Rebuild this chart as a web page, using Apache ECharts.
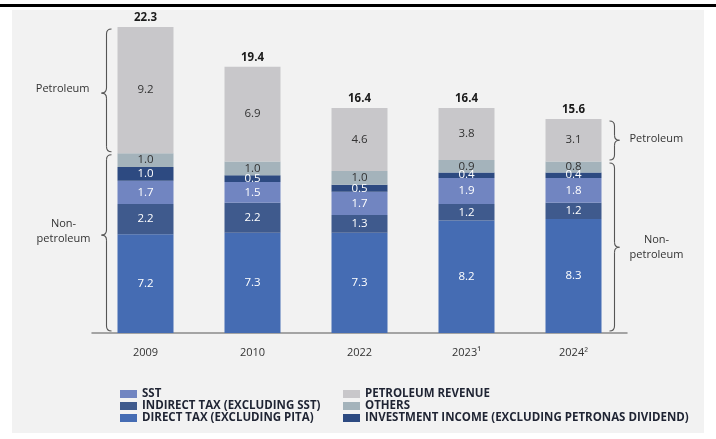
<!DOCTYPE html>
<html>
<head>
<meta charset="utf-8">
<script src="https://cdn.jsdelivr.net/npm/echarts@6/dist/echarts.min.js"></script>
<style>
  html, body { margin: 0; padding: 0; background: #ffffff; }
  #chart { width: 716px; height: 439px; }
</style>
</head>
<body>
<div id="chart"></div>
<script>
// Federal government revenue composition, by year
const years = ['2009', '2010', '2022', '2023¹', '2024²'];

const directTax     = [7.2, 7.3, 7.3, 8.2, 8.3];   // DIRECT TAX (EXCLUDING PITA)
const indirectTax   = [2.2, 2.2, 1.3, 1.2, 1.2];   // INDIRECT TAX (EXCLUDING SST)
const sst           = [1.7, 1.5, 1.7, 1.9, 1.8];   // SST
const investment    = [1.0, 0.5, 0.5, 0.4, 0.4];   // INVESTMENT INCOME (EXCLUDING PETRONAS DIVIDEND)
const others        = [1.0, 1.0, 1.0, 0.9, 0.8];   // OTHERS
const petroleum     = [9.2, 6.9, 4.6, 3.8, 3.1];   // PETROLEUM REVENUE
const totals        = [22.3, 19.4, 16.4, 16.4, 15.6];

const FONT = '"Open Sans", "Noto Sans", sans-serif';
const BAR_W = 56;

const chart = echarts.init(document.getElementById('chart'), null, { renderer: 'canvas' });

function stackSeries(name, data, color, labelColor) {
  return {
    name: name,
    type: 'bar',
    stack: 'revenue',
    data: data,
    barWidth: BAR_W,
    itemStyle: { color: color },
    label: {
      show: true,
      position: 'inside',
      color: labelColor,
      fontFamily: FONT,
      fontSize: 11.5,
      formatter: p => p.value.toFixed(1)
    },
    emphasis: { disabled: true }
  };
}

const legendText = { color: '#1f2433', fontFamily: FONT, fontSize: 11.5, fontWeight: 'bold', lineHeight: 12 };

const option = {
  backgroundColor: '#ffffff',
  animation: false,
  grid: { left: 92, width: 535, top: 27, bottom: 106, containLabel: false },
  xAxis: {
    type: 'category',
    data: years,
    axisTick: { show: false },
    axisLine: { lineStyle: { color: '#8a8a8a', width: 1.5 } },
    axisLabel: { color: '#333333', fontFamily: FONT, fontSize: 11, margin: 14 }
  },
  yAxis: { type: 'value', min: 0, max: 22.3, show: false, splitLine: { show: false } },
  legend: [
    {
      orient: 'vertical', left: 120, top: 388, padding: 0,
      itemWidth: 17, itemHeight: 8, itemGap: 0, itemTextGap: 6,
      icon: 'rect', selectedMode: false,
      textStyle: legendText,
      data: ['SST', 'INDIRECT TAX (EXCLUDING SST)', 'DIRECT TAX (EXCLUDING PITA)']
    },
    {
      orient: 'vertical', left: 343, top: 388, padding: 0,
      itemWidth: 17, itemHeight: 8, itemGap: 0, itemTextGap: 6,
      icon: 'rect', selectedMode: false,
      textStyle: legendText,
      data: ['PETROLEUM REVENUE', 'OTHERS', 'INVESTMENT INCOME (EXCLUDING PETRONAS DIVIDEND)']
    }
  ],
  series: [
    stackSeries('DIRECT TAX (EXCLUDING PITA)', directTax, '#456cb3', '#ffffff'),
    stackSeries('INDIRECT TAX (EXCLUDING SST)', indirectTax, '#3f5a8d', '#ffffff'),
    stackSeries('SST', sst, '#7185c1', '#ffffff'),
    stackSeries('INVESTMENT INCOME (EXCLUDING PETRONAS DIVIDEND)', investment, '#2d4a81', '#ffffff'),
    stackSeries('OTHERS', others, '#a4b3bb', '#333333'),
    stackSeries('PETROLEUM REVENUE', petroleum, '#c8c7ca', '#333333'),
    {
      name: 'total',
      type: 'bar',
      data: totals,
      barWidth: BAR_W,
      barGap: '-100%',
      itemStyle: { color: 'rgba(0,0,0,0)' },
      silent: true,
      z: 5,
      label: {
        show: true, position: 'top', distance: 3,
        color: '#1a1a1a', fontFamily: FONT, fontSize: 11.5, fontWeight: 'bold',
        formatter: p => p.value.toFixed(1)
      }
    }
  ]
};

chart.setOption(option);

const braceStyle = { stroke: '#555555', fill: null, lineWidth: 1.1 };

// Curly brace built from lines and quadratic curves.
// dir = -1: tip points left (end hooks toward the right); dir = 1: tip points right
function brace(x, y1, y2, dir, ym) {
  const r = 5, d = 5;
  const h = -dir * r;
  const curve = (x1, yA, x2, yB, cx, cy) => ({
    type: 'bezierCurve', silent: true,
    shape: { x1: x1, y1: yA, x2: x2, y2: yB, cpx1: cx, cpy1: cy },
    style: braceStyle
  });
  const line = (yA, yB) => ({
    type: 'line', silent: true,
    shape: { x1: x, y1: yA, x2: x, y2: yB },
    style: braceStyle
  });
  return [
    curve(x + h, y1, x, y1 + r, x, y1),
    line(y1 + r, ym - r),
    curve(x, ym - r, x + dir * d, ym, x, ym),
    curve(x + dir * d, ym, x, ym + r, x, ym),
    line(ym + r, y2 - r),
    curve(x, y2 - r, x + h, y2, x, y2)
  ];
}

function px(cat, val) {
  return chart.convertToPixel({ gridIndex: 0 }, [cat, val]);
}

const first = 0, last = years.length - 1;
const nonPetFirst = totals[first] - petroleum[first];
const nonPetLast = totals[last] - petroleum[last];

const fTop = px(first, totals[first])[1];
const fMid = px(first, nonPetFirst)[1];
const fBot = px(first, 0)[1];
const fX = px(first, 0)[0] - BAR_W / 2 - 11;

const lTop = px(last, totals[last])[1];
const lMid = px(last, nonPetLast)[1];
const lBot = px(last, 0)[1];
const lX = px(last, 0)[0] + BAR_W / 2 + 13;

// brace tips (the lower-left one sits a little above its middle)
const tipFP = (fTop + fMid) / 2 + 3;
const tipFN = (fMid + fBot) / 2 - 8;
const tipLP = (lTop + lMid) / 2;
const tipLN = (lMid + lBot) / 2;

const textBase = { fontFamily: FONT, fontSize: 11, fill: '#333333', lineHeight: 15 };
const label = (x, y, text, align) => ({
  type: 'text', silent: true, x: x, y: y,
  style: Object.assign({ text: text, align: align, verticalAlign: 'middle' }, textBase)
});

chart.setOption({
  graphic: [
    // page frame
    { type: 'rect', z: -10, silent: true, shape: { x: 0, y: 4, width: 716, height: 3 }, style: { fill: '#000000' } },
    { type: 'rect', z: -10, silent: true, shape: { x: 12, y: 10, width: 692, height: 423 }, style: { fill: '#f2f2f2' } }
  ].concat(
    brace(fX, fTop + 2, fMid - 1.5, -1, tipFP),
    brace(fX, fMid + 1.5, fBot - 2, -1, tipFN),
    brace(lX, lTop + 2, lMid - 1.5, 1, tipLP),
    brace(lX, lMid + 1.5, lBot - 2, 1, tipLN),
    [
      label(fX - 17, tipFP - 4, 'Petroleum', 'right'),
      label(fX - 43, tipFN - 4, 'Non-\npetroleum', 'center'),
      label(lX + 15, tipLP - 1, 'Petroleum', 'left'),
      label(lX + 42, tipLN, 'Non-\npetroleum', 'center')
    ]
  )
});
</script>
</body>
</html>
